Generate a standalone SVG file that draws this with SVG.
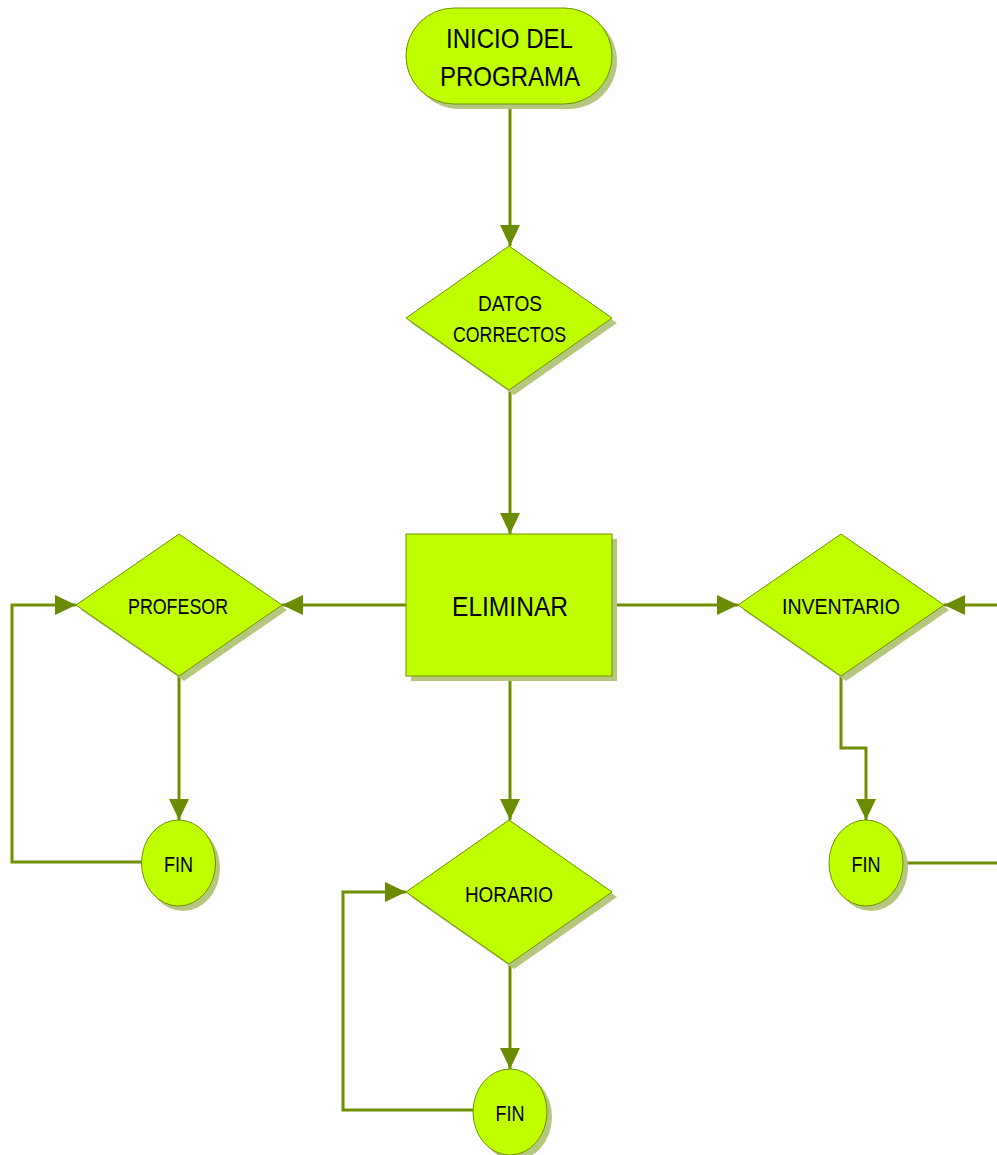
<svg xmlns="http://www.w3.org/2000/svg" width="997" height="1155" viewBox="0 0 997 1155">
<style>
.shape{fill:#bfff00;stroke:#6f8f00;stroke-width:1}
.shadow{fill:#b5c77e}
.conn{fill:none;stroke:#6f8f00;stroke-width:3}
text{font-family:"Liberation Sans",Arial,sans-serif;fill:#000;text-anchor:middle}
.big{font-size:28px}
.sm{font-size:22px}
</style>
<defs>
<marker id="arr" markerUnits="userSpaceOnUse" markerWidth="22" markerHeight="22" viewBox="0 0 22 22" refX="21" refY="11" orient="auto">
<path d="M0,1 L21,11 L0,21 Z" fill="#6b8c00"/>
</marker>
</defs>
<rect width="997" height="1155" fill="#fff"/>
<g id="connectors">
<path class="conn" d="M510,104 V246" marker-end="url(#arr)"/>
<path class="conn" d="M510,390 V534" marker-end="url(#arr)"/>
<path class="conn" d="M406,605 H282" marker-end="url(#arr)"/>
<path class="conn" d="M612,605 H738" marker-end="url(#arr)"/>
<path class="conn" d="M997,605 H944" marker-end="url(#arr)"/>
<path class="conn" d="M510,676 V820" marker-end="url(#arr)"/>
<path class="conn" d="M179,676 V820" marker-end="url(#arr)"/>
<path class="conn" d="M142,862 H12 V605 H76" marker-end="url(#arr)"/>
<path class="conn" d="M841,676 V748 H866 V820" marker-end="url(#arr)"/>
<path class="conn" d="M903,863 H997"/>
<path class="conn" d="M510,964 V1069" marker-end="url(#arr)"/>
<path class="conn" d="M473,1110 H343 V892 H406" marker-end="url(#arr)"/>
</g>
<g id="inicio">
<rect class="shadow" x="411" y="13" width="206" height="96" rx="48"/>
<rect class="shape" x="406" y="8" width="206" height="96" rx="48"/>
<text class="big" x="509.5" y="48" textLength="127" lengthAdjust="spacingAndGlyphs">INICIO DEL</text>
<text class="big" x="510" y="86" textLength="140" lengthAdjust="spacingAndGlyphs">PROGRAMA</text>
</g>
<g id="datos">
<polygon class="shadow" points="514,251 617,323 514,395 411,323"/>
<polygon class="shape" points="509,246 612,318 509,390 406,318"/>
<text class="sm" x="510" y="311" textLength="64" lengthAdjust="spacingAndGlyphs">DATOS</text>
<text class="sm" x="509.5" y="342" textLength="113" lengthAdjust="spacingAndGlyphs">CORRECTOS</text>
</g>
<g id="eliminar">
<rect class="shadow" x="411" y="539" width="206" height="142"/>
<rect class="shape" x="406" y="534" width="206" height="142"/>
<text class="big" x="510" y="616" textLength="116" lengthAdjust="spacingAndGlyphs">ELIMINAR</text>
</g>
<g id="profesor">
<polygon class="shadow" points="184,539 287,610 184,681 81,610"/>
<polygon class="shape" points="179,534 282,605 179,676 76,605"/>
<text class="sm" x="178" y="614" textLength="100" lengthAdjust="spacingAndGlyphs">PROFESOR</text>
</g>
<g id="inventario">
<polygon class="shadow" points="846,539 949,610 846,681 743,610"/>
<polygon class="shape" points="841,534 944,605 841,676 738,605"/>
<text class="sm" x="841" y="614" textLength="118" lengthAdjust="spacingAndGlyphs">INVENTARIO</text>
</g>
<g id="horario">
<polygon class="shadow" points="514,825 617,897 514,969 411,897"/>
<polygon class="shape" points="509,820 612,892 509,964 406,892"/>
<text class="sm" x="509" y="902" textLength="88" lengthAdjust="spacingAndGlyphs">HORARIO</text>
</g>
<g id="fin1">
<ellipse class="shadow" cx="183" cy="868" rx="37" ry="43"/>
<ellipse class="shape" cx="178.5" cy="863" rx="37" ry="43"/>
<text class="sm" x="178.5" y="872" textLength="29" lengthAdjust="spacingAndGlyphs">FIN</text>
</g>
<g id="fin2">
<ellipse class="shadow" cx="871" cy="868" rx="37" ry="43"/>
<ellipse class="shape" cx="866" cy="863" rx="37" ry="43"/>
<text class="sm" x="866" y="872" textLength="29" lengthAdjust="spacingAndGlyphs">FIN</text>
</g>
<g id="fin3">
<ellipse class="shadow" cx="515" cy="1117" rx="37" ry="43"/>
<ellipse class="shape" cx="510" cy="1112" rx="37" ry="43"/>
<text class="sm" x="510" y="1121" textLength="29" lengthAdjust="spacingAndGlyphs">FIN</text>
</g>
</svg>
